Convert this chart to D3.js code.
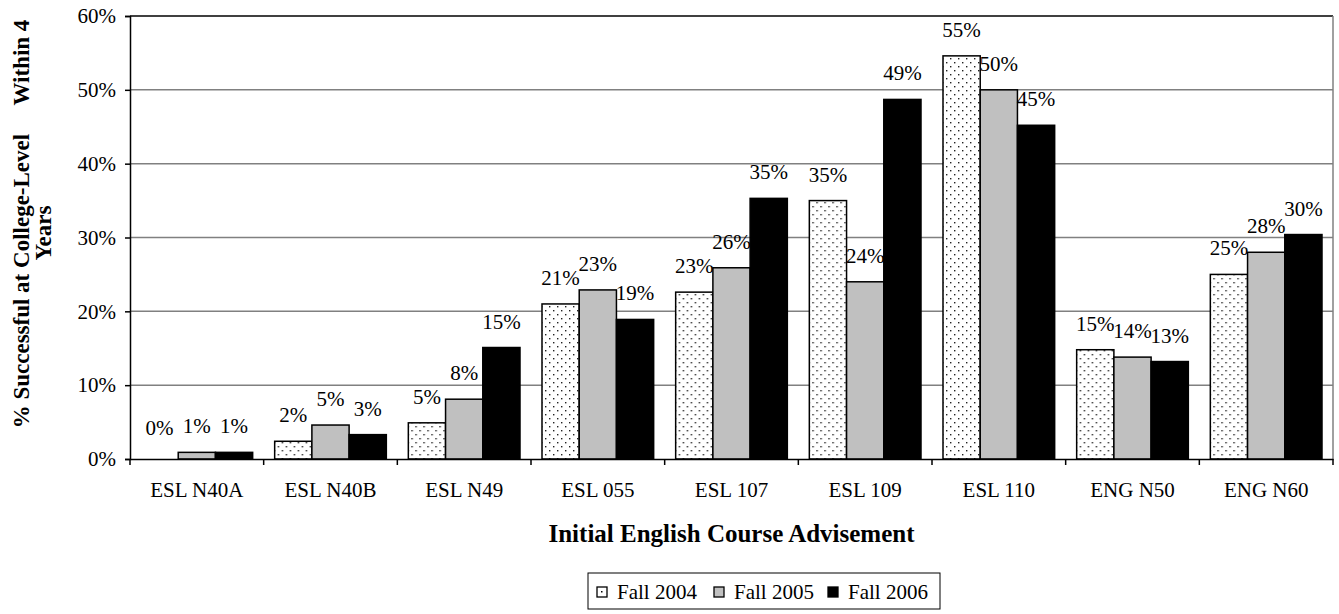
<!DOCTYPE html>
<html>
<head>
<meta charset="utf-8">
<script src="https://cdn.jsdelivr.net/npm/d3@7"></script>
<style>
  body { margin: 0; background: #fff; }
  text { font-family: "Liberation Serif", "Times New Roman", serif; }
</style>
</head>
<body>
<div id="wrapper"></div>
<script>
const courses = ["ESL N40A", "ESL N40B", "ESL N49", "ESL 055", "ESL 107", "ESL 109", "ESL 110", "ENG N50", "ENG N60"]
const seriesNames = ["Fall 2004", "Fall 2005", "Fall 2006"]
const fall2004 = [0, 2.4, 4.9, 21.0, 22.6, 35.0, 54.6, 14.8, 25.0]
const fall2005 = [0.9, 4.6, 8.1, 22.9, 25.9, 24.0, 50.0, 13.8, 28.0]
const fall2006 = [0.9, 3.3, 15.1, 18.9, 35.3, 48.7, 45.2, 13.2, 30.4]
const yTicks = [0, 10, 20, 30, 40, 50, 60]

const seriesValues = [fall2004, fall2005, fall2006]

function drawChart() {
  const dimensions = {
    width: 1339,
    height: 614,
    margin: { top: 16, right: 6, bottom: 155, left: 130 },
  }
  dimensions.boundedWidth = dimensions.width - dimensions.margin.left - dimensions.margin.right
  dimensions.boundedHeight = dimensions.height - dimensions.margin.top - dimensions.margin.bottom

  const svg = d3.select("#wrapper")
    .append("svg")
      .attr("width", dimensions.width)
      .attr("height", dimensions.height)

  const defs = svg.append("defs")
  const dots = defs.append("pattern")
    .attr("id", "dots")
    .attr("patternUnits", "userSpaceOnUse")
    .attr("width", 8)
    .attr("height", 8)
  dots.append("rect").attr("width", 8).attr("height", 8).attr("fill", "#fff")
  dots.append("rect").attr("x", 2).attr("y", 2).attr("width", 1.4).attr("height", 1.4).attr("fill", "#222")
  dots.append("rect").attr("x", 6).attr("y", 6).attr("width", 1.4).attr("height", 1.4).attr("fill", "#222")

  const fills = ["url(#dots)", "#c0c0c0", "#000"]

  const bounds = svg.append("g")
    .attr("transform", `translate(${dimensions.margin.left},${dimensions.margin.top})`)

  const xScale = d3.scaleBand()
    .domain(courses)
    .range([0, dimensions.boundedWidth])

  const innerScale = d3.scaleBand()
    .domain(d3.range(seriesNames.length))
    .range([11, xScale.bandwidth() - 11])

  const yScale = d3.scaleLinear()
    .domain([0, 60])
    .range([dimensions.boundedHeight, 0])

  // gridlines
  bounds.selectAll(".grid")
    .data(yTicks.filter(d => d > 0 && d < 60))
    .join("line")
      .attr("class", "grid")
      .attr("x1", 0)
      .attr("x2", dimensions.boundedWidth)
      .attr("y1", d => yScale(d))
      .attr("y2", d => yScale(d))
      .attr("stroke", "#808080")
      .attr("stroke-width", 1.5)

  bounds.append("line")
    .attr("x1", 0).attr("x2", dimensions.boundedWidth)
    .attr("y1", yScale(60)).attr("y2", yScale(60))
    .attr("stroke", "#000").attr("stroke-width", 1.5)
  bounds.append("line")
    .attr("x1", dimensions.boundedWidth).attr("x2", dimensions.boundedWidth)
    .attr("y1", yScale(60)).attr("y2", yScale(0))
    .attr("stroke", "#808080").attr("stroke-width", 1.5)

  // bars
  const groups = bounds.selectAll(".group")
    .data(courses)
    .join("g")
      .attr("class", "group")
      .attr("transform", d => `translate(${xScale(d)},0)`)

  seriesValues.forEach((values, si) => {
    groups.append("rect")
      .attr("x", innerScale(si))
      .attr("width", innerScale.bandwidth())
      .attr("y", (d, i) => yScale(values[i]))
      .attr("height", (d, i) => yScale(0) - yScale(values[i]))
      .attr("fill", fills[si])
      .attr("stroke", (d, i) => values[i] > 0 ? "#000" : "none")
      .attr("stroke-width", 1.5)

    groups.append("text")
      .attr("x", innerScale(si) + innerScale.bandwidth() / 2)
      .attr("y", (d, i) => yScale(Math.max(values[i], 0.7)) - 19)
      .attr("text-anchor", "middle")
      .style("font-size", "21px")
      .text((d, i) => Math.round(values[i]) + "%")
  })

  // axes
  const yAxis = bounds.append("g")
    .call(d3.axisLeft(yScale).tickValues(yTicks).tickFormat(d => d + "%").tickSize(5).tickPadding(9))
  yAxis.selectAll("text").style("font-size", "21px").attr("fill", "#000")
  yAxis.select(".domain").attr("stroke-width", 1.5)
  yAxis.selectAll(".tick line").attr("stroke-width", 1.5)

  const xAxis = bounds.append("g")
    .attr("transform", `translate(0,${dimensions.boundedHeight})`)
    .call(d3.axisBottom(xScale).tickSize(0).tickPadding(23).tickSizeOuter(0))
  xAxis.selectAll("text").style("font-size", "21px").attr("fill", "#000")
  xAxis.select(".domain").attr("stroke-width", 1.5)

  bounds.selectAll(".xtick")
    .data(d3.range(courses.length + 1))
    .join("line")
      .attr("class", "xtick")
      .attr("x1", i => i * xScale.step())
      .attr("x2", i => i * xScale.step())
      .attr("y1", dimensions.boundedHeight)
      .attr("y2", dimensions.boundedHeight + 6)
      .attr("stroke", "#000")
      .attr("stroke-width", 1.5)

  // titles
  svg.append("text")
    .attr("x", dimensions.margin.left + dimensions.boundedWidth / 2)
    .attr("y", 542)
    .attr("text-anchor", "middle")
    .style("font-size", "25px")
    .style("font-weight", "bold")
    .text("Initial English Course Advisement")

  const yTitle = svg.append("text")
    .attr("transform", "rotate(-90)")
    .attr("text-anchor", "middle")
    .style("font-size", "23px")
    .style("font-weight", "bold")
  yTitle.append("tspan")
    .attr("x", -224).attr("y", 29)
    .attr("xml:space", "preserve")
    .style("white-space", "pre")
    .text("% Successful at College-Level     Within 4")
  yTitle.append("tspan")
    .attr("x", -233).attr("y", 51)
    .text("Years")

  // legend
  const legend = svg.append("g").attr("transform", "translate(588,573)")
  legend.append("rect")
    .attr("width", 352).attr("height", 36)
    .attr("fill", "#fff").attr("stroke", "#000").attr("stroke-width", 1)
  const legendX = [9, 126, 240]
  seriesNames.forEach((name, i) => {
    legend.append("rect")
      .attr("x", legendX[i]).attr("y", 14)
      .attr("width", 10).attr("height", 10)
      .attr("fill", i === 0 ? "#fff" : fills[i])
      .attr("stroke", "#000").attr("stroke-width", 1.3)
    if (i === 0) {
      legend.append("rect").attr("x", legendX[i] + 4).attr("y", 18)
        .attr("width", 1.5).attr("height", 1.5).attr("fill", "#000")
    }
    legend.append("text")
      .attr("x", legendX[i] + 20).attr("y", 26)
      .style("font-size", "21px")
      .text(name)
  })
}

drawChart()
</script>
</body>
</html>
